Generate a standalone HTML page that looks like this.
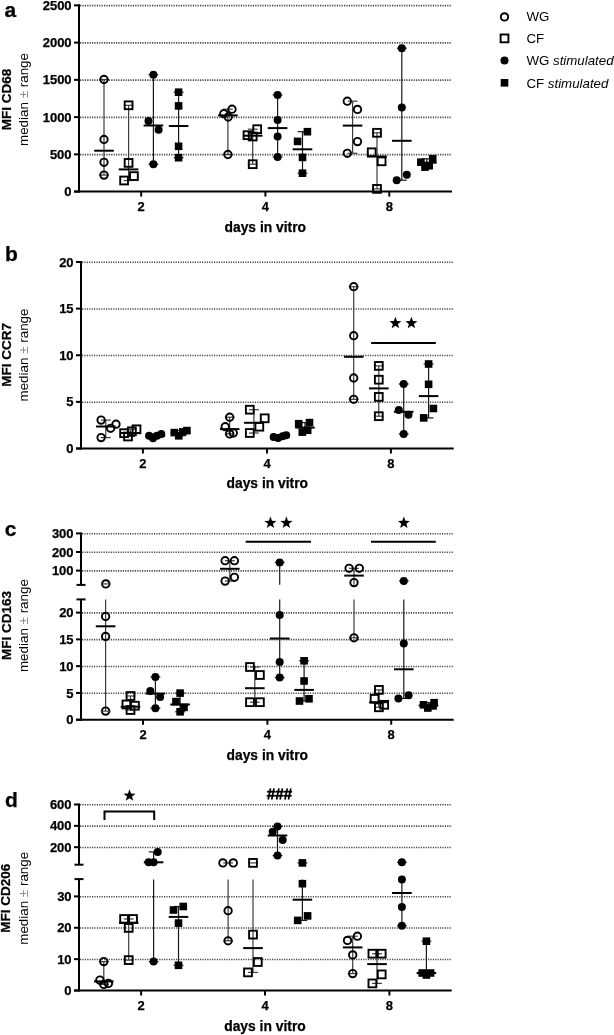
<!DOCTYPE html>
<html><head><meta charset="utf-8"><title>Figure</title>
<style>
html,body{margin:0;padding:0;background:#fff;}
body{width:614px;height:1035px;overflow:hidden;}
svg{display:block;will-change:transform;}
text{font-family:"Liberation Sans", sans-serif;fill:#000;}
text[font-weight="bold"]{stroke:#000;stroke-width:0.25px;}
</style></head>
<body>
<svg width="614" height="1035" viewBox="0 0 614 1035">
<rect width="614" height="1035" fill="#fff"/>
<text x="4.6" y="16.6" font-size="21" text-anchor="start" font-weight="bold" >a</text>
<line x1="80" y1="5.65" x2="452" y2="5.65" stroke="#4a4a4a" stroke-width="1.6" stroke-dasharray="1.2,1.2"/>
<line x1="80" y1="42.9" x2="452" y2="42.9" stroke="#4a4a4a" stroke-width="1.6" stroke-dasharray="1.2,1.2"/>
<line x1="80" y1="80.15" x2="452" y2="80.15" stroke="#4a4a4a" stroke-width="1.6" stroke-dasharray="1.2,1.2"/>
<line x1="80" y1="117.4" x2="452" y2="117.4" stroke="#4a4a4a" stroke-width="1.6" stroke-dasharray="1.2,1.2"/>
<line x1="80" y1="154.65" x2="452" y2="154.65" stroke="#4a4a4a" stroke-width="1.6" stroke-dasharray="1.2,1.2"/>
<line x1="79" y1="4.35" x2="79" y2="192.6" stroke="#000" stroke-width="2" />
<line x1="74" y1="5.35" x2="79" y2="5.35" stroke="#000" stroke-width="2" />
<text x="71.6" y="9.95" font-size="13" text-anchor="end" font-weight="bold" >2500</text>
<line x1="74" y1="42.6" x2="79" y2="42.6" stroke="#000" stroke-width="2" />
<text x="71.6" y="47.2" font-size="13" text-anchor="end" font-weight="bold" >2000</text>
<line x1="74" y1="79.85" x2="79" y2="79.85" stroke="#000" stroke-width="2" />
<text x="71.6" y="84.45" font-size="13" text-anchor="end" font-weight="bold" >1500</text>
<line x1="74" y1="117.1" x2="79" y2="117.1" stroke="#000" stroke-width="2" />
<text x="71.6" y="121.7" font-size="13" text-anchor="end" font-weight="bold" >1000</text>
<line x1="74" y1="154.35" x2="79" y2="154.35" stroke="#000" stroke-width="2" />
<text x="71.6" y="158.95" font-size="13" text-anchor="end" font-weight="bold" >500</text>
<line x1="74" y1="191.6" x2="79" y2="191.6" stroke="#000" stroke-width="2" />
<text x="71.6" y="196.2" font-size="13" text-anchor="end" font-weight="bold" >0</text>
<text x="10.6" y="99.5" font-size="13.5" text-anchor="middle" font-weight="bold" transform="rotate(-90 10.6 99.5)">MFI CD68</text>
<text x="27.9" y="99.5" font-size="13.4" text-anchor="middle" transform="rotate(-90 27.9 99.5)">median <tspan fill="#8a8a8a">&#177;</tspan> range</text>
<line x1="74" y1="191.6" x2="452" y2="191.6" stroke="#000" stroke-width="2" />
<line x1="141.2" y1="191.6" x2="141.2" y2="196.6" stroke="#000" stroke-width="2" />
<text x="141.2" y="211.2" font-size="13" text-anchor="middle" font-weight="bold" >2</text>
<line x1="265.4" y1="191.6" x2="265.4" y2="196.6" stroke="#000" stroke-width="2" />
<text x="265.4" y="211.2" font-size="13" text-anchor="middle" font-weight="bold" >4</text>
<line x1="389.3" y1="191.6" x2="389.3" y2="196.6" stroke="#000" stroke-width="2" />
<text x="389.3" y="211.2" font-size="13" text-anchor="middle" font-weight="bold" >8</text>
<text x="265.3" y="232.2" font-size="13.85" text-anchor="middle" font-weight="bold" >days in vitro</text>
<line x1="104" y1="79.5" x2="104" y2="175.1" stroke="#3c3c3c" stroke-width="1.2" />
<line x1="99.1" y1="79.5" x2="108.9" y2="79.5" stroke="#3c3c3c" stroke-width="1.2" />
<line x1="99.1" y1="175.1" x2="108.9" y2="175.1" stroke="#3c3c3c" stroke-width="1.2" />
<line x1="94.2" y1="150.7" x2="113.8" y2="150.7" stroke="#000" stroke-width="2" />
<circle cx="104" cy="79.5" r="3.7" fill="none" stroke="#000" stroke-width="1.9"/>
<circle cx="104" cy="139.5" r="3.7" fill="none" stroke="#000" stroke-width="1.9"/>
<circle cx="104" cy="162.3" r="3.7" fill="none" stroke="#000" stroke-width="1.9"/>
<circle cx="104" cy="175.1" r="3.7" fill="none" stroke="#000" stroke-width="1.9"/>
<line x1="128.6" y1="105.3" x2="128.6" y2="180.5" stroke="#3c3c3c" stroke-width="1.2" />
<line x1="123.7" y1="105.3" x2="133.5" y2="105.3" stroke="#3c3c3c" stroke-width="1.2" />
<line x1="123.7" y1="180.5" x2="133.5" y2="180.5" stroke="#3c3c3c" stroke-width="1.2" />
<line x1="118.8" y1="169.4" x2="138.4" y2="169.4" stroke="#000" stroke-width="2" />
<rect x="124.7" y="101.4" width="7.8" height="7.8" fill="none" stroke="#000" stroke-width="1.9"/>
<rect x="124.7" y="159" width="7.8" height="7.8" fill="none" stroke="#000" stroke-width="1.9"/>
<rect x="130" y="172.2" width="7.8" height="7.8" fill="none" stroke="#000" stroke-width="1.9"/>
<rect x="120.2" y="176.6" width="7.8" height="7.8" fill="none" stroke="#000" stroke-width="1.9"/>
<line x1="153.4" y1="74.7" x2="153.4" y2="164.2" stroke="#1a1a1a" stroke-width="1.2" />
<line x1="148.5" y1="74.7" x2="158.3" y2="74.7" stroke="#1a1a1a" stroke-width="1.2" />
<line x1="148.5" y1="164.2" x2="158.3" y2="164.2" stroke="#1a1a1a" stroke-width="1.2" />
<line x1="143.6" y1="125.5" x2="163.2" y2="125.5" stroke="#000" stroke-width="2" />
<circle cx="153.4" cy="74.7" r="4" fill="#000"/>
<circle cx="148.5" cy="121.1" r="4" fill="#000"/>
<circle cx="158.6" cy="129.7" r="4" fill="#000"/>
<circle cx="153.4" cy="164.2" r="4" fill="#000"/>
<line x1="178.6" y1="92.2" x2="178.6" y2="157.7" stroke="#1a1a1a" stroke-width="1.2" />
<line x1="173.7" y1="92.2" x2="183.5" y2="92.2" stroke="#1a1a1a" stroke-width="1.2" />
<line x1="173.7" y1="157.7" x2="183.5" y2="157.7" stroke="#1a1a1a" stroke-width="1.2" />
<line x1="168.8" y1="126" x2="188.4" y2="126" stroke="#000" stroke-width="2" />
<rect x="174.8" y="88.4" width="7.6" height="7.6" fill="#000"/>
<rect x="174.8" y="102.1" width="7.6" height="7.6" fill="#000"/>
<rect x="174.8" y="142.5" width="7.6" height="7.6" fill="#000"/>
<rect x="174.8" y="153.9" width="7.6" height="7.6" fill="#000"/>
<line x1="227.9" y1="109.2" x2="227.9" y2="154.5" stroke="#3c3c3c" stroke-width="1.2" />
<line x1="223" y1="109.2" x2="232.8" y2="109.2" stroke="#3c3c3c" stroke-width="1.2" />
<line x1="223" y1="154.5" x2="232.8" y2="154.5" stroke="#3c3c3c" stroke-width="1.2" />
<line x1="218.1" y1="115.4" x2="237.7" y2="115.4" stroke="#000" stroke-width="2" />
<circle cx="232" cy="109.2" r="3.7" fill="none" stroke="#000" stroke-width="1.9"/>
<circle cx="223.8" cy="113.7" r="3.7" fill="none" stroke="#000" stroke-width="1.9"/>
<circle cx="228.2" cy="117" r="3.7" fill="none" stroke="#000" stroke-width="1.9"/>
<circle cx="227.9" cy="154.5" r="3.7" fill="none" stroke="#000" stroke-width="1.9"/>
<line x1="252.7" y1="129.2" x2="252.7" y2="164.2" stroke="#3c3c3c" stroke-width="1.2" />
<line x1="247.8" y1="129.2" x2="257.6" y2="129.2" stroke="#3c3c3c" stroke-width="1.2" />
<line x1="247.8" y1="164.2" x2="257.6" y2="164.2" stroke="#3c3c3c" stroke-width="1.2" />
<line x1="242.9" y1="135.7" x2="262.5" y2="135.7" stroke="#000" stroke-width="2" />
<rect x="253.3" y="125.3" width="7.8" height="7.8" fill="none" stroke="#000" stroke-width="1.9"/>
<rect x="243.6" y="131.3" width="7.8" height="7.8" fill="none" stroke="#000" stroke-width="1.9"/>
<rect x="248.8" y="132.6" width="7.8" height="7.8" fill="none" stroke="#000" stroke-width="1.9"/>
<rect x="248.8" y="160.3" width="7.8" height="7.8" fill="none" stroke="#000" stroke-width="1.9"/>
<line x1="277.6" y1="95" x2="277.6" y2="156.9" stroke="#1a1a1a" stroke-width="1.2" />
<line x1="272.7" y1="95" x2="282.5" y2="95" stroke="#1a1a1a" stroke-width="1.2" />
<line x1="272.7" y1="156.9" x2="282.5" y2="156.9" stroke="#1a1a1a" stroke-width="1.2" />
<line x1="267.8" y1="128.1" x2="287.4" y2="128.1" stroke="#000" stroke-width="2" />
<circle cx="277.6" cy="95" r="4" fill="#000"/>
<circle cx="277.6" cy="119.9" r="4" fill="#000"/>
<circle cx="277.6" cy="136.5" r="4" fill="#000"/>
<circle cx="277.6" cy="156.9" r="4" fill="#000"/>
<line x1="302.5" y1="131.7" x2="302.5" y2="173.2" stroke="#1a1a1a" stroke-width="1.2" />
<line x1="297.6" y1="131.7" x2="307.4" y2="131.7" stroke="#1a1a1a" stroke-width="1.2" />
<line x1="297.6" y1="173.2" x2="307.4" y2="173.2" stroke="#1a1a1a" stroke-width="1.2" />
<line x1="292.7" y1="149.3" x2="312.3" y2="149.3" stroke="#000" stroke-width="2" />
<rect x="303.6" y="127.9" width="7.6" height="7.6" fill="#000"/>
<rect x="293.8" y="137.6" width="7.6" height="7.6" fill="#000"/>
<rect x="298.7" y="153.6" width="7.6" height="7.6" fill="#000"/>
<rect x="298.7" y="169.4" width="7.6" height="7.6" fill="#000"/>
<line x1="352.6" y1="101.2" x2="352.6" y2="153.3" stroke="#3c3c3c" stroke-width="1.2" />
<line x1="347.7" y1="101.2" x2="357.5" y2="101.2" stroke="#3c3c3c" stroke-width="1.2" />
<line x1="347.7" y1="153.3" x2="357.5" y2="153.3" stroke="#3c3c3c" stroke-width="1.2" />
<line x1="342.8" y1="125.6" x2="362.4" y2="125.6" stroke="#000" stroke-width="2" />
<circle cx="347.3" cy="101.2" r="3.7" fill="none" stroke="#000" stroke-width="1.9"/>
<circle cx="357.5" cy="109.4" r="3.7" fill="none" stroke="#000" stroke-width="1.9"/>
<circle cx="357.5" cy="141.6" r="3.7" fill="none" stroke="#000" stroke-width="1.9"/>
<circle cx="347.3" cy="153.3" r="3.7" fill="none" stroke="#000" stroke-width="1.9"/>
<line x1="377" y1="132.8" x2="377" y2="188.9" stroke="#3c3c3c" stroke-width="1.2" />
<line x1="372.1" y1="132.8" x2="381.9" y2="132.8" stroke="#3c3c3c" stroke-width="1.2" />
<line x1="372.1" y1="188.9" x2="381.9" y2="188.9" stroke="#3c3c3c" stroke-width="1.2" />
<line x1="367.2" y1="156.5" x2="386.8" y2="156.5" stroke="#000" stroke-width="2" />
<rect x="373.1" y="128.9" width="7.8" height="7.8" fill="none" stroke="#000" stroke-width="1.9"/>
<rect x="367.8" y="148.4" width="7.8" height="7.8" fill="none" stroke="#000" stroke-width="1.9"/>
<rect x="377.7" y="157.4" width="7.8" height="7.8" fill="none" stroke="#000" stroke-width="1.9"/>
<rect x="373.1" y="185" width="7.8" height="7.8" fill="none" stroke="#000" stroke-width="1.9"/>
<line x1="401.8" y1="48.2" x2="401.8" y2="180.2" stroke="#1a1a1a" stroke-width="1.2" />
<line x1="396.9" y1="48.2" x2="406.7" y2="48.2" stroke="#1a1a1a" stroke-width="1.2" />
<line x1="396.9" y1="180.2" x2="406.7" y2="180.2" stroke="#1a1a1a" stroke-width="1.2" />
<line x1="392" y1="140.8" x2="411.6" y2="140.8" stroke="#000" stroke-width="2" />
<circle cx="401.8" cy="48.2" r="4" fill="#000"/>
<circle cx="401.8" cy="107.4" r="4" fill="#000"/>
<circle cx="406.8" cy="174.7" r="4" fill="#000"/>
<circle cx="396.7" cy="180.2" r="4" fill="#000"/>
<line x1="426.8" y1="158.8" x2="426.8" y2="167.1" stroke="#1a1a1a" stroke-width="1.2" />
<line x1="421.9" y1="158.8" x2="431.7" y2="158.8" stroke="#1a1a1a" stroke-width="1.2" />
<line x1="421.9" y1="167.1" x2="431.7" y2="167.1" stroke="#1a1a1a" stroke-width="1.2" />
<line x1="417" y1="162.7" x2="436.6" y2="162.7" stroke="#000" stroke-width="2" />
<rect x="417.1" y="158.4" width="7.6" height="7.6" fill="#000"/>
<rect x="421.2" y="163.3" width="7.6" height="7.6" fill="#000"/>
<rect x="425.4" y="161.9" width="7.6" height="7.6" fill="#000"/>
<rect x="428.9" y="155" width="7.6" height="7.6" fill="#000"/>
<circle cx="504.5" cy="16.9" r="3.7" fill="none" stroke="#000" stroke-width="1.9"/>
<rect x="500.6" y="34.5" width="7.8" height="7.8" fill="none" stroke="#000" stroke-width="1.9"/>
<circle cx="504.5" cy="60.6" r="4" fill="#000"/>
<rect x="500.7" y="79" width="7.6" height="7.6" fill="#000"/>
<text x="526.4" y="21.4" font-size="13.3" text-anchor="start" font-weight="normal" >WG</text>
<text x="526.4" y="43" font-size="13.3" text-anchor="start" font-weight="normal" >CF</text>
<text x="526.4" y="65" font-size="13.3" text-anchor="start" font-weight="normal" >WG <tspan font-style="italic">stimulated</tspan></text>
<text x="526.4" y="87.5" font-size="13.3" text-anchor="start" font-weight="normal" >CF <tspan font-style="italic">stimulated</tspan></text>
<text x="5" y="260.5" font-size="21" text-anchor="start" font-weight="bold" >b</text>
<line x1="82" y1="262.3" x2="453.7" y2="262.3" stroke="#4a4a4a" stroke-width="1.6" stroke-dasharray="1.2,1.2"/>
<line x1="82" y1="308.93" x2="453.7" y2="308.93" stroke="#4a4a4a" stroke-width="1.6" stroke-dasharray="1.2,1.2"/>
<line x1="82" y1="355.55" x2="453.7" y2="355.55" stroke="#4a4a4a" stroke-width="1.6" stroke-dasharray="1.2,1.2"/>
<line x1="82" y1="402.18" x2="453.7" y2="402.18" stroke="#4a4a4a" stroke-width="1.6" stroke-dasharray="1.2,1.2"/>
<line x1="81" y1="261" x2="81" y2="449.5" stroke="#000" stroke-width="2" />
<line x1="76" y1="262" x2="81" y2="262" stroke="#000" stroke-width="2" />
<text x="73.6" y="266.6" font-size="13" text-anchor="end" font-weight="bold" >20</text>
<line x1="76" y1="308.62" x2="81" y2="308.62" stroke="#000" stroke-width="2" />
<text x="73.6" y="313.23" font-size="13" text-anchor="end" font-weight="bold" >15</text>
<line x1="76" y1="355.25" x2="81" y2="355.25" stroke="#000" stroke-width="2" />
<text x="73.6" y="359.85" font-size="13" text-anchor="end" font-weight="bold" >10</text>
<line x1="76" y1="401.88" x2="81" y2="401.88" stroke="#000" stroke-width="2" />
<text x="73.6" y="406.48" font-size="13" text-anchor="end" font-weight="bold" >5</text>
<line x1="76" y1="448.5" x2="81" y2="448.5" stroke="#000" stroke-width="2" />
<text x="73.6" y="453.1" font-size="13" text-anchor="end" font-weight="bold" >0</text>
<text x="10.6" y="355" font-size="13.5" text-anchor="middle" font-weight="bold" transform="rotate(-90 10.6 355)">MFI CCR7</text>
<text x="27.9" y="355" font-size="13.4" text-anchor="middle" transform="rotate(-90 27.9 355)">median <tspan fill="#8a8a8a">&#177;</tspan> range</text>
<line x1="76" y1="448.5" x2="453.7" y2="448.5" stroke="#000" stroke-width="2" />
<line x1="142.9" y1="448.5" x2="142.9" y2="453.5" stroke="#000" stroke-width="2" />
<text x="142.9" y="468.2" font-size="13" text-anchor="middle" font-weight="bold" >2</text>
<line x1="267" y1="448.5" x2="267" y2="453.5" stroke="#000" stroke-width="2" />
<text x="267" y="468.2" font-size="13" text-anchor="middle" font-weight="bold" >4</text>
<line x1="390.9" y1="448.5" x2="390.9" y2="453.5" stroke="#000" stroke-width="2" />
<text x="390.9" y="468.2" font-size="13" text-anchor="middle" font-weight="bold" >8</text>
<text x="267.3" y="488.4" font-size="13.85" text-anchor="middle" font-weight="bold" >days in vitro</text>
<line x1="105.8" y1="420.1" x2="105.8" y2="437.6" stroke="#3c3c3c" stroke-width="1.2" />
<line x1="100.9" y1="420.1" x2="110.7" y2="420.1" stroke="#3c3c3c" stroke-width="1.2" />
<line x1="100.9" y1="437.6" x2="110.7" y2="437.6" stroke="#3c3c3c" stroke-width="1.2" />
<line x1="96" y1="426.5" x2="115.6" y2="426.5" stroke="#000" stroke-width="2" />
<circle cx="101.1" cy="420.1" r="3.7" fill="none" stroke="#000" stroke-width="1.9"/>
<circle cx="116" cy="424.2" r="3.7" fill="none" stroke="#000" stroke-width="1.9"/>
<circle cx="110.6" cy="428.3" r="3.7" fill="none" stroke="#000" stroke-width="1.9"/>
<circle cx="101.1" cy="437.6" r="3.7" fill="none" stroke="#000" stroke-width="1.9"/>
<line x1="130.3" y1="429.3" x2="130.3" y2="436.5" stroke="#3c3c3c" stroke-width="1.2" />
<line x1="125.4" y1="429.3" x2="135.2" y2="429.3" stroke="#3c3c3c" stroke-width="1.2" />
<line x1="125.4" y1="436.5" x2="135.2" y2="436.5" stroke="#3c3c3c" stroke-width="1.2" />
<line x1="120.5" y1="433" x2="140.1" y2="433" stroke="#000" stroke-width="2" />
<rect x="120.2" y="429.3" width="7.8" height="7.8" fill="none" stroke="#000" stroke-width="1.9"/>
<rect x="124.1" y="432.6" width="7.8" height="7.8" fill="none" stroke="#000" stroke-width="1.9"/>
<rect x="128" y="427.4" width="7.8" height="7.8" fill="none" stroke="#000" stroke-width="1.9"/>
<rect x="132.6" y="425.4" width="7.8" height="7.8" fill="none" stroke="#000" stroke-width="1.9"/>
<line x1="155.3" y1="433.9" x2="155.3" y2="438.2" stroke="#1a1a1a" stroke-width="1.2" />
<line x1="150.4" y1="433.9" x2="160.2" y2="433.9" stroke="#1a1a1a" stroke-width="1.2" />
<line x1="150.4" y1="438.2" x2="160.2" y2="438.2" stroke="#1a1a1a" stroke-width="1.2" />
<line x1="145.5" y1="436" x2="165.1" y2="436" stroke="#000" stroke-width="2" />
<circle cx="149.1" cy="435.8" r="4" fill="#000"/>
<circle cx="153" cy="438.2" r="4" fill="#000"/>
<circle cx="157" cy="435.8" r="4" fill="#000"/>
<circle cx="161.3" cy="433.9" r="4" fill="#000"/>
<line x1="180.5" y1="430.6" x2="180.5" y2="435.8" stroke="#1a1a1a" stroke-width="1.2" />
<line x1="175.6" y1="430.6" x2="185.4" y2="430.6" stroke="#1a1a1a" stroke-width="1.2" />
<line x1="175.6" y1="435.8" x2="185.4" y2="435.8" stroke="#1a1a1a" stroke-width="1.2" />
<line x1="170.7" y1="433" x2="190.3" y2="433" stroke="#000" stroke-width="2" />
<rect x="170.5" y="428.8" width="7.6" height="7.6" fill="#000"/>
<rect x="175" y="432" width="7.6" height="7.6" fill="#000"/>
<rect x="179" y="428.1" width="7.6" height="7.6" fill="#000"/>
<rect x="183.1" y="426.8" width="7.6" height="7.6" fill="#000"/>
<line x1="229.7" y1="417.2" x2="229.7" y2="433.9" stroke="#3c3c3c" stroke-width="1.2" />
<line x1="224.8" y1="417.2" x2="234.6" y2="417.2" stroke="#3c3c3c" stroke-width="1.2" />
<line x1="224.8" y1="433.9" x2="234.6" y2="433.9" stroke="#3c3c3c" stroke-width="1.2" />
<line x1="219.9" y1="429.1" x2="239.5" y2="429.1" stroke="#000" stroke-width="2" />
<circle cx="229.7" cy="417.2" r="3.7" fill="none" stroke="#000" stroke-width="1.9"/>
<circle cx="225.2" cy="426.7" r="3.7" fill="none" stroke="#000" stroke-width="1.9"/>
<circle cx="229.7" cy="433.9" r="3.7" fill="none" stroke="#000" stroke-width="1.9"/>
<circle cx="233.3" cy="433" r="3.7" fill="none" stroke="#000" stroke-width="1.9"/>
<line x1="253.9" y1="409.7" x2="253.9" y2="433" stroke="#3c3c3c" stroke-width="1.2" />
<line x1="249" y1="409.7" x2="258.8" y2="409.7" stroke="#3c3c3c" stroke-width="1.2" />
<line x1="249" y1="433" x2="258.8" y2="433" stroke="#3c3c3c" stroke-width="1.2" />
<line x1="244.1" y1="422.8" x2="263.7" y2="422.8" stroke="#000" stroke-width="2" />
<rect x="245.9" y="405.8" width="7.8" height="7.8" fill="none" stroke="#000" stroke-width="1.9"/>
<rect x="260.8" y="414.4" width="7.8" height="7.8" fill="none" stroke="#000" stroke-width="1.9"/>
<rect x="255.4" y="422.8" width="7.8" height="7.8" fill="none" stroke="#000" stroke-width="1.9"/>
<rect x="245.9" y="429.1" width="7.8" height="7.8" fill="none" stroke="#000" stroke-width="1.9"/>
<line x1="280" y1="435.2" x2="280" y2="438" stroke="#1a1a1a" stroke-width="1.2" />
<line x1="275.1" y1="435.2" x2="284.9" y2="435.2" stroke="#1a1a1a" stroke-width="1.2" />
<line x1="275.1" y1="438" x2="284.9" y2="438" stroke="#1a1a1a" stroke-width="1.2" />
<line x1="270.2" y1="436.8" x2="289.8" y2="436.8" stroke="#000" stroke-width="2" />
<circle cx="273.6" cy="437" r="4" fill="#000"/>
<circle cx="278.1" cy="438" r="4" fill="#000"/>
<circle cx="282.6" cy="436.2" r="4" fill="#000"/>
<circle cx="286.2" cy="435.2" r="4" fill="#000"/>
<line x1="305" y1="422.6" x2="305" y2="432.1" stroke="#1a1a1a" stroke-width="1.2" />
<line x1="300.1" y1="422.6" x2="309.9" y2="422.6" stroke="#1a1a1a" stroke-width="1.2" />
<line x1="300.1" y1="432.1" x2="309.9" y2="432.1" stroke="#1a1a1a" stroke-width="1.2" />
<line x1="295.2" y1="427.6" x2="314.8" y2="427.6" stroke="#000" stroke-width="2" />
<rect x="294.9" y="419.9" width="7.6" height="7.6" fill="#000"/>
<rect x="305.7" y="418.8" width="7.6" height="7.6" fill="#000"/>
<rect x="298.5" y="428.3" width="7.6" height="7.6" fill="#000"/>
<rect x="303.9" y="426.5" width="7.6" height="7.6" fill="#000"/>
<line x1="353.7" y1="286.7" x2="353.7" y2="399.3" stroke="#3c3c3c" stroke-width="1.2" />
<line x1="348.8" y1="286.7" x2="358.6" y2="286.7" stroke="#3c3c3c" stroke-width="1.2" />
<line x1="348.8" y1="399.3" x2="358.6" y2="399.3" stroke="#3c3c3c" stroke-width="1.2" />
<line x1="343.9" y1="356.8" x2="363.5" y2="356.8" stroke="#000" stroke-width="2" />
<circle cx="353.7" cy="286.7" r="3.7" fill="none" stroke="#000" stroke-width="1.9"/>
<circle cx="353.7" cy="335.7" r="3.7" fill="none" stroke="#000" stroke-width="1.9"/>
<circle cx="353.7" cy="378" r="3.7" fill="none" stroke="#000" stroke-width="1.9"/>
<circle cx="353.7" cy="399.3" r="3.7" fill="none" stroke="#000" stroke-width="1.9"/>
<line x1="378.8" y1="365.9" x2="378.8" y2="416.2" stroke="#3c3c3c" stroke-width="1.2" />
<line x1="373.9" y1="365.9" x2="383.7" y2="365.9" stroke="#3c3c3c" stroke-width="1.2" />
<line x1="373.9" y1="416.2" x2="383.7" y2="416.2" stroke="#3c3c3c" stroke-width="1.2" />
<line x1="369" y1="388.4" x2="388.6" y2="388.4" stroke="#000" stroke-width="2" />
<rect x="374.9" y="362" width="7.8" height="7.8" fill="none" stroke="#000" stroke-width="1.9"/>
<rect x="374.9" y="375.8" width="7.8" height="7.8" fill="none" stroke="#000" stroke-width="1.9"/>
<rect x="374.9" y="393" width="7.8" height="7.8" fill="none" stroke="#000" stroke-width="1.9"/>
<rect x="374.9" y="412.3" width="7.8" height="7.8" fill="none" stroke="#000" stroke-width="1.9"/>
<line x1="403.7" y1="384" x2="403.7" y2="434" stroke="#1a1a1a" stroke-width="1.2" />
<line x1="398.8" y1="384" x2="408.6" y2="384" stroke="#1a1a1a" stroke-width="1.2" />
<line x1="398.8" y1="434" x2="408.6" y2="434" stroke="#1a1a1a" stroke-width="1.2" />
<line x1="393.9" y1="411.8" x2="413.5" y2="411.8" stroke="#000" stroke-width="2" />
<circle cx="403.7" cy="384" r="4" fill="#000"/>
<circle cx="398.8" cy="409.9" r="4" fill="#000"/>
<circle cx="408.5" cy="414.7" r="4" fill="#000"/>
<circle cx="403.7" cy="434" r="4" fill="#000"/>
<line x1="428.6" y1="364" x2="428.6" y2="417.9" stroke="#1a1a1a" stroke-width="1.2" />
<line x1="423.7" y1="364" x2="433.5" y2="364" stroke="#1a1a1a" stroke-width="1.2" />
<line x1="423.7" y1="417.9" x2="433.5" y2="417.9" stroke="#1a1a1a" stroke-width="1.2" />
<line x1="418.8" y1="396.1" x2="438.4" y2="396.1" stroke="#000" stroke-width="2" />
<rect x="424.8" y="360.2" width="7.6" height="7.6" fill="#000"/>
<rect x="424.8" y="380.5" width="7.6" height="7.6" fill="#000"/>
<rect x="429.6" y="404.7" width="7.6" height="7.6" fill="#000"/>
<rect x="419.9" y="414.1" width="7.6" height="7.6" fill="#000"/>
<polygon points="395.4,316.8 396.96,320.96 401.39,321.15 397.92,323.92 399.1,328.2 395.4,325.75 391.7,328.2 392.88,323.92 389.41,321.15 393.84,320.96" fill="#000"/>
<polygon points="411.4,316.8 412.96,320.96 417.39,321.15 413.92,323.92 415.1,328.2 411.4,325.75 407.7,328.2 408.88,323.92 405.41,321.15 409.84,320.96" fill="#000"/>
<line x1="371.1" y1="343" x2="435.8" y2="343" stroke="#000" stroke-width="2" />
<text x="4.8" y="536.4" font-size="21" text-anchor="start" font-weight="bold" >c</text>
<line x1="82" y1="533.7" x2="453.7" y2="533.7" stroke="#4a4a4a" stroke-width="1.6" stroke-dasharray="1.2,1.2"/>
<line x1="82" y1="552.3" x2="453.7" y2="552.3" stroke="#4a4a4a" stroke-width="1.6" stroke-dasharray="1.2,1.2"/>
<line x1="82" y1="570.9" x2="453.7" y2="570.9" stroke="#4a4a4a" stroke-width="1.6" stroke-dasharray="1.2,1.2"/>
<line x1="82" y1="612.9" x2="453.7" y2="612.9" stroke="#4a4a4a" stroke-width="1.6" stroke-dasharray="1.2,1.2"/>
<line x1="82" y1="639.67" x2="453.7" y2="639.67" stroke="#4a4a4a" stroke-width="1.6" stroke-dasharray="1.2,1.2"/>
<line x1="82" y1="666.45" x2="453.7" y2="666.45" stroke="#4a4a4a" stroke-width="1.6" stroke-dasharray="1.2,1.2"/>
<line x1="82" y1="693.23" x2="453.7" y2="693.23" stroke="#4a4a4a" stroke-width="1.6" stroke-dasharray="1.2,1.2"/>
<line x1="81" y1="532.4" x2="81" y2="584.9" stroke="#000" stroke-width="2" />
<line x1="76.5" y1="584.9" x2="85.5" y2="584.9" stroke="#000" stroke-width="2" />
<line x1="81" y1="599.4" x2="81" y2="720.7" stroke="#000" stroke-width="2" />
<line x1="76.5" y1="599.4" x2="85.5" y2="599.4" stroke="#000" stroke-width="2" />
<line x1="76" y1="533.4" x2="81" y2="533.4" stroke="#000" stroke-width="2" />
<text x="73.6" y="538" font-size="13" text-anchor="end" font-weight="bold" >300</text>
<line x1="76" y1="552" x2="81" y2="552" stroke="#000" stroke-width="2" />
<text x="73.6" y="556.6" font-size="13" text-anchor="end" font-weight="bold" >200</text>
<line x1="76" y1="570.6" x2="81" y2="570.6" stroke="#000" stroke-width="2" />
<text x="73.6" y="575.2" font-size="13" text-anchor="end" font-weight="bold" >100</text>
<line x1="76" y1="612.6" x2="81" y2="612.6" stroke="#000" stroke-width="2" />
<text x="73.6" y="617.2" font-size="13" text-anchor="end" font-weight="bold" >20</text>
<line x1="76" y1="639.38" x2="81" y2="639.38" stroke="#000" stroke-width="2" />
<text x="73.6" y="643.98" font-size="13" text-anchor="end" font-weight="bold" >15</text>
<line x1="76" y1="666.15" x2="81" y2="666.15" stroke="#000" stroke-width="2" />
<text x="73.6" y="670.75" font-size="13" text-anchor="end" font-weight="bold" >10</text>
<line x1="76" y1="692.93" x2="81" y2="692.93" stroke="#000" stroke-width="2" />
<text x="73.6" y="697.53" font-size="13" text-anchor="end" font-weight="bold" >5</text>
<line x1="76" y1="719.7" x2="81" y2="719.7" stroke="#000" stroke-width="2" />
<text x="73.6" y="724.3" font-size="13" text-anchor="end" font-weight="bold" >0</text>
<text x="10.6" y="625.6" font-size="13.5" text-anchor="middle" font-weight="bold" transform="rotate(-90 10.6 625.6)">MFI CD163</text>
<text x="27.9" y="625.6" font-size="13.4" text-anchor="middle" transform="rotate(-90 27.9 625.6)">median <tspan fill="#8a8a8a">&#177;</tspan> range</text>
<line x1="76" y1="719.7" x2="453.7" y2="719.7" stroke="#000" stroke-width="2" />
<line x1="143" y1="719.7" x2="143" y2="724.7" stroke="#000" stroke-width="2" />
<text x="143" y="739.4" font-size="13" text-anchor="middle" font-weight="bold" >2</text>
<line x1="267.4" y1="719.7" x2="267.4" y2="724.7" stroke="#000" stroke-width="2" />
<text x="267.4" y="739.4" font-size="13" text-anchor="middle" font-weight="bold" >4</text>
<line x1="391.2" y1="719.7" x2="391.2" y2="724.7" stroke="#000" stroke-width="2" />
<text x="391.2" y="739.4" font-size="13" text-anchor="middle" font-weight="bold" >8</text>
<text x="267.3" y="760" font-size="13.85" text-anchor="middle" font-weight="bold" >days in vitro</text>
<line x1="105.6" y1="599.4" x2="105.6" y2="711.1" stroke="#3c3c3c" stroke-width="1.2" />
<line x1="95.8" y1="626.3" x2="115.4" y2="626.3" stroke="#000" stroke-width="2" />
<circle cx="105.8" cy="583.9" r="3.7" fill="none" stroke="#000" stroke-width="1.9"/>
<circle cx="105.6" cy="616.5" r="3.7" fill="none" stroke="#000" stroke-width="1.9"/>
<circle cx="105.6" cy="636.5" r="3.7" fill="none" stroke="#000" stroke-width="1.9"/>
<circle cx="105.6" cy="711.1" r="3.7" fill="none" stroke="#000" stroke-width="1.9"/>
<line x1="100.7" y1="711.1" x2="110.5" y2="711.1" stroke="#3c3c3c" stroke-width="1.2" />
<line x1="100.9" y1="583.9" x2="110.7" y2="583.9" stroke="#3c3c3c" stroke-width="1.2" />
<line x1="130.5" y1="696" x2="130.5" y2="710" stroke="#3c3c3c" stroke-width="1.2" />
<line x1="125.6" y1="696" x2="135.4" y2="696" stroke="#3c3c3c" stroke-width="1.2" />
<line x1="125.6" y1="710" x2="135.4" y2="710" stroke="#3c3c3c" stroke-width="1.2" />
<line x1="120.7" y1="706.7" x2="140.3" y2="706.7" stroke="#000" stroke-width="2" />
<rect x="126.6" y="692.1" width="7.8" height="7.8" fill="none" stroke="#000" stroke-width="1.9"/>
<rect x="122.5" y="700.6" width="7.8" height="7.8" fill="none" stroke="#000" stroke-width="1.9"/>
<rect x="131" y="701.8" width="7.8" height="7.8" fill="none" stroke="#000" stroke-width="1.9"/>
<rect x="126.6" y="706.1" width="7.8" height="7.8" fill="none" stroke="#000" stroke-width="1.9"/>
<line x1="155.4" y1="676.9" x2="155.4" y2="708.2" stroke="#1a1a1a" stroke-width="1.2" />
<line x1="150.5" y1="676.9" x2="160.3" y2="676.9" stroke="#1a1a1a" stroke-width="1.2" />
<line x1="150.5" y1="708.2" x2="160.3" y2="708.2" stroke="#1a1a1a" stroke-width="1.2" />
<line x1="145.6" y1="693.6" x2="165.2" y2="693.6" stroke="#000" stroke-width="2" />
<circle cx="155.4" cy="676.9" r="4" fill="#000"/>
<circle cx="150.3" cy="691" r="4" fill="#000"/>
<circle cx="160.1" cy="696.9" r="4" fill="#000"/>
<circle cx="155.4" cy="708.2" r="4" fill="#000"/>
<line x1="180.1" y1="693.1" x2="180.1" y2="711.8" stroke="#1a1a1a" stroke-width="1.2" />
<line x1="175.2" y1="693.1" x2="185" y2="693.1" stroke="#1a1a1a" stroke-width="1.2" />
<line x1="175.2" y1="711.8" x2="185" y2="711.8" stroke="#1a1a1a" stroke-width="1.2" />
<line x1="170.3" y1="704.5" x2="189.9" y2="704.5" stroke="#000" stroke-width="2" />
<rect x="176.3" y="689.3" width="7.6" height="7.6" fill="#000"/>
<rect x="172.2" y="697.8" width="7.6" height="7.6" fill="#000"/>
<rect x="180.2" y="703.6" width="7.6" height="7.6" fill="#000"/>
<rect x="176.3" y="708" width="7.6" height="7.6" fill="#000"/>
<line x1="229.8" y1="560.7" x2="229.8" y2="581.1" stroke="#3c3c3c" stroke-width="1.2" />
<line x1="224.9" y1="560.7" x2="234.7" y2="560.7" stroke="#3c3c3c" stroke-width="1.2" />
<line x1="224.9" y1="581.1" x2="234.7" y2="581.1" stroke="#3c3c3c" stroke-width="1.2" />
<line x1="220" y1="568.8" x2="239.6" y2="568.8" stroke="#000" stroke-width="2" />
<circle cx="225.1" cy="560.7" r="3.7" fill="none" stroke="#000" stroke-width="1.9"/>
<circle cx="234.4" cy="560.7" r="3.7" fill="none" stroke="#000" stroke-width="1.9"/>
<circle cx="225.1" cy="581.1" r="3.7" fill="none" stroke="#000" stroke-width="1.9"/>
<circle cx="234.4" cy="577.3" r="3.7" fill="none" stroke="#000" stroke-width="1.9"/>
<line x1="254.8" y1="667" x2="254.8" y2="702.2" stroke="#3c3c3c" stroke-width="1.2" />
<line x1="249.9" y1="667" x2="259.7" y2="667" stroke="#3c3c3c" stroke-width="1.2" />
<line x1="249.9" y1="702.2" x2="259.7" y2="702.2" stroke="#3c3c3c" stroke-width="1.2" />
<line x1="245" y1="688.2" x2="264.6" y2="688.2" stroke="#000" stroke-width="2" />
<rect x="246.1" y="663.1" width="7.8" height="7.8" fill="none" stroke="#000" stroke-width="1.9"/>
<rect x="256" y="671.1" width="7.8" height="7.8" fill="none" stroke="#000" stroke-width="1.9"/>
<rect x="246.1" y="698.3" width="7.8" height="7.8" fill="none" stroke="#000" stroke-width="1.9"/>
<rect x="256" y="698.3" width="7.8" height="7.8" fill="none" stroke="#000" stroke-width="1.9"/>
<line x1="279.7" y1="562.4" x2="279.7" y2="584.7" stroke="#1a1a1a" stroke-width="1.2" />
<line x1="279.7" y1="599.6" x2="279.7" y2="677.6" stroke="#1a1a1a" stroke-width="1.2" />
<line x1="274.8" y1="562.4" x2="284.6" y2="562.4" stroke="#1a1a1a" stroke-width="1.2" />
<line x1="274.8" y1="677.6" x2="284.6" y2="677.6" stroke="#1a1a1a" stroke-width="1.2" />
<line x1="269.9" y1="638.5" x2="289.5" y2="638.5" stroke="#000" stroke-width="2" />
<circle cx="279.7" cy="562.4" r="4" fill="#000"/>
<circle cx="279.7" cy="615.1" r="4" fill="#000"/>
<circle cx="279.7" cy="661.9" r="4" fill="#000"/>
<circle cx="279.7" cy="677.6" r="4" fill="#000"/>
<line x1="304.1" y1="660.8" x2="304.1" y2="701" stroke="#1a1a1a" stroke-width="1.2" />
<line x1="299.2" y1="660.8" x2="309" y2="660.8" stroke="#1a1a1a" stroke-width="1.2" />
<line x1="299.2" y1="701" x2="309" y2="701" stroke="#1a1a1a" stroke-width="1.2" />
<line x1="294.3" y1="689.9" x2="313.9" y2="689.9" stroke="#000" stroke-width="2" />
<rect x="300.3" y="657" width="7.6" height="7.6" fill="#000"/>
<rect x="300.3" y="677.2" width="7.6" height="7.6" fill="#000"/>
<rect x="295.7" y="697.2" width="7.6" height="7.6" fill="#000"/>
<rect x="305.2" y="695" width="7.6" height="7.6" fill="#000"/>
<polygon points="270.45,516.6 272.01,520.76 276.44,520.95 272.97,523.72 274.15,528 270.45,525.55 266.75,528 267.93,523.72 264.46,520.95 268.89,520.76" fill="#000"/>
<polygon points="286.4,516.6 287.96,520.76 292.39,520.95 288.92,523.72 290.1,528 286.4,525.55 282.7,528 283.88,523.72 280.41,520.95 284.84,520.76" fill="#000"/>
<line x1="245.7" y1="541.8" x2="311" y2="541.8" stroke="#000" stroke-width="2" />
<line x1="354" y1="568.3" x2="354" y2="584.7" stroke="#3c3c3c" stroke-width="1.2" />
<line x1="354" y1="599.6" x2="354" y2="637.8" stroke="#3c3c3c" stroke-width="1.2" />
<line x1="349.1" y1="568.3" x2="358.9" y2="568.3" stroke="#3c3c3c" stroke-width="1.2" />
<line x1="349.1" y1="637.8" x2="358.9" y2="637.8" stroke="#3c3c3c" stroke-width="1.2" />
<line x1="344.2" y1="575.6" x2="363.8" y2="575.6" stroke="#000" stroke-width="2" />
<circle cx="349.1" cy="568.3" r="3.7" fill="none" stroke="#000" stroke-width="1.9"/>
<circle cx="359.3" cy="568.3" r="3.7" fill="none" stroke="#000" stroke-width="1.9"/>
<circle cx="354" cy="582.6" r="3.7" fill="none" stroke="#000" stroke-width="1.9"/>
<circle cx="354" cy="637.8" r="3.7" fill="none" stroke="#000" stroke-width="1.9"/>
<line x1="378.9" y1="689.9" x2="378.9" y2="707.3" stroke="#3c3c3c" stroke-width="1.2" />
<line x1="374" y1="689.9" x2="383.8" y2="689.9" stroke="#3c3c3c" stroke-width="1.2" />
<line x1="374" y1="707.3" x2="383.8" y2="707.3" stroke="#3c3c3c" stroke-width="1.2" />
<line x1="369.1" y1="702.2" x2="388.7" y2="702.2" stroke="#000" stroke-width="2" />
<rect x="375" y="686" width="7.8" height="7.8" fill="none" stroke="#000" stroke-width="1.9"/>
<rect x="370.7" y="694.9" width="7.8" height="7.8" fill="none" stroke="#000" stroke-width="1.9"/>
<rect x="380.3" y="700.9" width="7.8" height="7.8" fill="none" stroke="#000" stroke-width="1.9"/>
<rect x="375" y="703.4" width="7.8" height="7.8" fill="none" stroke="#000" stroke-width="1.9"/>
<line x1="403.8" y1="580.9" x2="403.8" y2="584.7" stroke="#1a1a1a" stroke-width="1.2" />
<line x1="403.8" y1="599.6" x2="403.8" y2="698.4" stroke="#1a1a1a" stroke-width="1.2" />
<line x1="398.9" y1="580.9" x2="408.7" y2="580.9" stroke="#1a1a1a" stroke-width="1.2" />
<line x1="398.9" y1="698.4" x2="408.7" y2="698.4" stroke="#1a1a1a" stroke-width="1.2" />
<line x1="394" y1="669.3" x2="413.6" y2="669.3" stroke="#000" stroke-width="2" />
<circle cx="403.8" cy="580.9" r="4" fill="#000"/>
<circle cx="403.8" cy="643.6" r="4" fill="#000"/>
<circle cx="408.6" cy="695.2" r="4" fill="#000"/>
<circle cx="398.4" cy="698.4" r="4" fill="#000"/>
<line x1="428.5" y1="702.7" x2="428.5" y2="708" stroke="#1a1a1a" stroke-width="1.2" />
<line x1="423.6" y1="702.7" x2="433.4" y2="702.7" stroke="#1a1a1a" stroke-width="1.2" />
<line x1="423.6" y1="708" x2="433.4" y2="708" stroke="#1a1a1a" stroke-width="1.2" />
<line x1="418.7" y1="705.5" x2="438.3" y2="705.5" stroke="#000" stroke-width="2" />
<rect x="419.7" y="701" width="7.6" height="7.6" fill="#000"/>
<rect x="424" y="704.2" width="7.6" height="7.6" fill="#000"/>
<rect x="429.3" y="702.1" width="7.6" height="7.6" fill="#000"/>
<rect x="430.3" y="698.9" width="7.6" height="7.6" fill="#000"/>
<polygon points="403.85,516.6 405.41,520.76 409.84,520.95 406.37,523.72 407.55,528 403.85,525.55 400.15,528 401.33,523.72 397.86,520.95 402.29,520.76" fill="#000"/>
<line x1="371" y1="541.8" x2="435.8" y2="541.8" stroke="#000" stroke-width="2" />
<text x="5" y="806.6" font-size="21" text-anchor="start" font-weight="bold" >d</text>
<line x1="80" y1="804.8" x2="451.7" y2="804.8" stroke="#4a4a4a" stroke-width="1.6" stroke-dasharray="1.2,1.2"/>
<line x1="80" y1="826.15" x2="451.7" y2="826.15" stroke="#4a4a4a" stroke-width="1.6" stroke-dasharray="1.2,1.2"/>
<line x1="80" y1="847.5" x2="451.7" y2="847.5" stroke="#4a4a4a" stroke-width="1.6" stroke-dasharray="1.2,1.2"/>
<line x1="80" y1="896.7" x2="451.7" y2="896.7" stroke="#4a4a4a" stroke-width="1.6" stroke-dasharray="1.2,1.2"/>
<line x1="80" y1="928.07" x2="451.7" y2="928.07" stroke="#4a4a4a" stroke-width="1.6" stroke-dasharray="1.2,1.2"/>
<line x1="80" y1="959.43" x2="451.7" y2="959.43" stroke="#4a4a4a" stroke-width="1.6" stroke-dasharray="1.2,1.2"/>
<line x1="79" y1="803.5" x2="79" y2="864.7" stroke="#000" stroke-width="2" />
<line x1="74.5" y1="864.7" x2="83.5" y2="864.7" stroke="#000" stroke-width="2" />
<line x1="79" y1="879.1" x2="79" y2="991.5" stroke="#000" stroke-width="2" />
<line x1="74.5" y1="879.1" x2="83.5" y2="879.1" stroke="#000" stroke-width="2" />
<line x1="74" y1="804.5" x2="79" y2="804.5" stroke="#000" stroke-width="2" />
<text x="71.6" y="809.1" font-size="13" text-anchor="end" font-weight="bold" >600</text>
<line x1="74" y1="825.85" x2="79" y2="825.85" stroke="#000" stroke-width="2" />
<text x="71.6" y="830.45" font-size="13" text-anchor="end" font-weight="bold" >400</text>
<line x1="74" y1="847.2" x2="79" y2="847.2" stroke="#000" stroke-width="2" />
<text x="71.6" y="851.8" font-size="13" text-anchor="end" font-weight="bold" >200</text>
<line x1="74" y1="896.4" x2="79" y2="896.4" stroke="#000" stroke-width="2" />
<text x="71.6" y="901" font-size="13" text-anchor="end" font-weight="bold" >30</text>
<line x1="74" y1="927.77" x2="79" y2="927.77" stroke="#000" stroke-width="2" />
<text x="71.6" y="932.37" font-size="13" text-anchor="end" font-weight="bold" >20</text>
<line x1="74" y1="959.13" x2="79" y2="959.13" stroke="#000" stroke-width="2" />
<text x="71.6" y="963.73" font-size="13" text-anchor="end" font-weight="bold" >10</text>
<line x1="74" y1="990.5" x2="79" y2="990.5" stroke="#000" stroke-width="2" />
<text x="71.6" y="995.1" font-size="13" text-anchor="end" font-weight="bold" >0</text>
<text x="10" y="898.3" font-size="13.5" text-anchor="middle" font-weight="bold" transform="rotate(-90 10 898.3)">MFI CD206</text>
<text x="27.9" y="898.3" font-size="13.4" text-anchor="middle" transform="rotate(-90 27.9 898.3)">median <tspan fill="#8a8a8a">&#177;</tspan> range</text>
<line x1="74" y1="990.5" x2="451.7" y2="990.5" stroke="#000" stroke-width="2" />
<line x1="141.1" y1="990.5" x2="141.1" y2="995.5" stroke="#000" stroke-width="2" />
<text x="141.1" y="1010" font-size="13" text-anchor="middle" font-weight="bold" >2</text>
<line x1="265" y1="990.5" x2="265" y2="995.5" stroke="#000" stroke-width="2" />
<text x="265" y="1010" font-size="13" text-anchor="middle" font-weight="bold" >4</text>
<line x1="389.4" y1="990.5" x2="389.4" y2="995.5" stroke="#000" stroke-width="2" />
<text x="389.4" y="1010" font-size="13" text-anchor="middle" font-weight="bold" >8</text>
<text x="265" y="1030.5" font-size="13.85" text-anchor="middle" font-weight="bold" >days in vitro</text>
<line x1="103.8" y1="961.6" x2="103.8" y2="984.4" stroke="#3c3c3c" stroke-width="1.2" />
<line x1="98.9" y1="961.6" x2="108.7" y2="961.6" stroke="#3c3c3c" stroke-width="1.2" />
<line x1="98.9" y1="984.4" x2="108.7" y2="984.4" stroke="#3c3c3c" stroke-width="1.2" />
<line x1="94" y1="981.4" x2="113.6" y2="981.4" stroke="#000" stroke-width="2" />
<circle cx="103.8" cy="961.6" r="3.7" fill="none" stroke="#000" stroke-width="1.9"/>
<circle cx="99.9" cy="980.1" r="3.7" fill="none" stroke="#000" stroke-width="1.9"/>
<circle cx="103.8" cy="984.4" r="3.7" fill="none" stroke="#000" stroke-width="1.9"/>
<circle cx="108.4" cy="983.4" r="3.7" fill="none" stroke="#000" stroke-width="1.9"/>
<line x1="128.7" y1="919" x2="128.7" y2="960.1" stroke="#3c3c3c" stroke-width="1.2" />
<line x1="123.8" y1="919" x2="133.6" y2="919" stroke="#3c3c3c" stroke-width="1.2" />
<line x1="123.8" y1="960.1" x2="133.6" y2="960.1" stroke="#3c3c3c" stroke-width="1.2" />
<line x1="118.9" y1="922.7" x2="138.5" y2="922.7" stroke="#000" stroke-width="2" />
<rect x="120.2" y="915.1" width="7.8" height="7.8" fill="none" stroke="#000" stroke-width="1.9"/>
<rect x="129.1" y="915.1" width="7.8" height="7.8" fill="none" stroke="#000" stroke-width="1.9"/>
<rect x="124.8" y="924" width="7.8" height="7.8" fill="none" stroke="#000" stroke-width="1.9"/>
<rect x="124.8" y="956.2" width="7.8" height="7.8" fill="none" stroke="#000" stroke-width="1.9"/>
<line x1="153.6" y1="851.9" x2="153.6" y2="864.7" stroke="#1a1a1a" stroke-width="1.2" />
<line x1="153.6" y1="879.5" x2="153.6" y2="961.6" stroke="#1a1a1a" stroke-width="1.2" />
<line x1="148.7" y1="851.9" x2="158.5" y2="851.9" stroke="#1a1a1a" stroke-width="1.2" />
<line x1="148.7" y1="961.6" x2="158.5" y2="961.6" stroke="#1a1a1a" stroke-width="1.2" />
<line x1="143.8" y1="862.3" x2="163.4" y2="862.3" stroke="#000" stroke-width="2" />
<circle cx="157.7" cy="851.9" r="4" fill="#000"/>
<circle cx="148.6" cy="862.3" r="4" fill="#000"/>
<circle cx="153.6" cy="862.3" r="4" fill="#000"/>
<circle cx="153.6" cy="961.6" r="4" fill="#000"/>
<line x1="178.5" y1="906.5" x2="178.5" y2="965.3" stroke="#1a1a1a" stroke-width="1.2" />
<line x1="173.6" y1="906.5" x2="183.4" y2="906.5" stroke="#1a1a1a" stroke-width="1.2" />
<line x1="173.6" y1="965.3" x2="183.4" y2="965.3" stroke="#1a1a1a" stroke-width="1.2" />
<line x1="168.7" y1="916.9" x2="188.3" y2="916.9" stroke="#000" stroke-width="2" />
<rect x="169.7" y="906.2" width="7.6" height="7.6" fill="#000"/>
<rect x="179.5" y="902.7" width="7.6" height="7.6" fill="#000"/>
<rect x="174.7" y="919.3" width="7.6" height="7.6" fill="#000"/>
<rect x="174.7" y="961.5" width="7.6" height="7.6" fill="#000"/>
<polygon points="129.5,789.3 131.06,793.46 135.49,793.65 132.02,796.42 133.2,800.7 129.5,798.25 125.8,800.7 126.98,796.42 123.51,793.65 127.94,793.46" fill="#000"/>
<polyline points="104.5,820 104.5,811.6 154.2,811.6 154.2,820" fill="none" stroke="#000" stroke-width="2"/>
<line x1="228.1" y1="879.5" x2="228.1" y2="940.8" stroke="#3c3c3c" stroke-width="1.2" />
<line x1="223.2" y1="862.9" x2="233" y2="862.9" stroke="#3c3c3c" stroke-width="1.2" />
<line x1="223.2" y1="940.8" x2="233" y2="940.8" stroke="#3c3c3c" stroke-width="1.2" />
<circle cx="222.9" cy="862.9" r="3.7" fill="none" stroke="#000" stroke-width="1.9"/>
<circle cx="233.3" cy="862.9" r="3.7" fill="none" stroke="#000" stroke-width="1.9"/>
<circle cx="228.1" cy="910.7" r="3.7" fill="none" stroke="#000" stroke-width="1.9"/>
<circle cx="228.1" cy="940.8" r="3.7" fill="none" stroke="#000" stroke-width="1.9"/>
<line x1="253" y1="879.5" x2="253" y2="972.4" stroke="#3c3c3c" stroke-width="1.2" />
<line x1="248.1" y1="862.9" x2="257.9" y2="862.9" stroke="#3c3c3c" stroke-width="1.2" />
<line x1="248.1" y1="972.4" x2="257.9" y2="972.4" stroke="#3c3c3c" stroke-width="1.2" />
<line x1="243.2" y1="948.1" x2="262.8" y2="948.1" stroke="#000" stroke-width="2" />
<rect x="249.1" y="859" width="7.8" height="7.8" fill="none" stroke="#000" stroke-width="1.9"/>
<rect x="249.1" y="930.7" width="7.8" height="7.8" fill="none" stroke="#000" stroke-width="1.9"/>
<rect x="253.9" y="958.1" width="7.8" height="7.8" fill="none" stroke="#000" stroke-width="1.9"/>
<rect x="244.1" y="968.5" width="7.8" height="7.8" fill="none" stroke="#000" stroke-width="1.9"/>
<line x1="277.5" y1="826.5" x2="277.5" y2="855.6" stroke="#1a1a1a" stroke-width="1.2" />
<line x1="272.6" y1="826.5" x2="282.4" y2="826.5" stroke="#1a1a1a" stroke-width="1.2" />
<line x1="272.6" y1="855.6" x2="282.4" y2="855.6" stroke="#1a1a1a" stroke-width="1.2" />
<line x1="267.7" y1="835.5" x2="287.3" y2="835.5" stroke="#000" stroke-width="2" />
<circle cx="277.5" cy="826.5" r="4" fill="#000"/>
<circle cx="272.7" cy="831.7" r="4" fill="#000"/>
<circle cx="282.7" cy="840" r="4" fill="#000"/>
<circle cx="277.5" cy="855.6" r="4" fill="#000"/>
<line x1="302.4" y1="879.5" x2="302.4" y2="920.4" stroke="#1a1a1a" stroke-width="1.2" />
<line x1="297.5" y1="862.9" x2="307.3" y2="862.9" stroke="#1a1a1a" stroke-width="1.2" />
<line x1="297.5" y1="920.4" x2="307.3" y2="920.4" stroke="#1a1a1a" stroke-width="1.2" />
<line x1="292.6" y1="899.7" x2="312.2" y2="899.7" stroke="#000" stroke-width="2" />
<rect x="298.6" y="859.1" width="7.6" height="7.6" fill="#000"/>
<rect x="298.6" y="879.9" width="7.6" height="7.6" fill="#000"/>
<rect x="293.9" y="916.6" width="7.6" height="7.6" fill="#000"/>
<rect x="303.8" y="912.1" width="7.6" height="7.6" fill="#000"/>
<line x1="270.5" y1="788.3" x2="268.2" y2="799.5" stroke="#000" stroke-width="1.7" />
<line x1="274" y1="788.3" x2="271.7" y2="799.5" stroke="#000" stroke-width="1.7" />
<line x1="267.1" y1="791.7" x2="275.3" y2="791.7" stroke="#000" stroke-width="1.8" />
<line x1="266.7" y1="795.8" x2="274.9" y2="795.8" stroke="#000" stroke-width="1.8" />
<line x1="278.9" y1="788.3" x2="276.6" y2="799.5" stroke="#000" stroke-width="1.7" />
<line x1="282.4" y1="788.3" x2="280.1" y2="799.5" stroke="#000" stroke-width="1.7" />
<line x1="275.5" y1="791.7" x2="283.7" y2="791.7" stroke="#000" stroke-width="1.8" />
<line x1="275.1" y1="795.8" x2="283.3" y2="795.8" stroke="#000" stroke-width="1.8" />
<line x1="287.3" y1="788.3" x2="285" y2="799.5" stroke="#000" stroke-width="1.7" />
<line x1="290.8" y1="788.3" x2="288.5" y2="799.5" stroke="#000" stroke-width="1.7" />
<line x1="283.9" y1="791.7" x2="292.1" y2="791.7" stroke="#000" stroke-width="1.8" />
<line x1="283.5" y1="795.8" x2="291.7" y2="795.8" stroke="#000" stroke-width="1.8" />
<line x1="352.7" y1="936.2" x2="352.7" y2="973.6" stroke="#3c3c3c" stroke-width="1.2" />
<line x1="347.8" y1="936.2" x2="357.6" y2="936.2" stroke="#3c3c3c" stroke-width="1.2" />
<line x1="347.8" y1="973.6" x2="357.6" y2="973.6" stroke="#3c3c3c" stroke-width="1.2" />
<line x1="342.9" y1="947.4" x2="362.5" y2="947.4" stroke="#000" stroke-width="2" />
<circle cx="347.5" cy="940.4" r="3.7" fill="none" stroke="#000" stroke-width="1.9"/>
<circle cx="357.4" cy="936.2" r="3.7" fill="none" stroke="#000" stroke-width="1.9"/>
<circle cx="352.7" cy="954.9" r="3.7" fill="none" stroke="#000" stroke-width="1.9"/>
<circle cx="352.7" cy="973.6" r="3.7" fill="none" stroke="#000" stroke-width="1.9"/>
<line x1="377" y1="953.7" x2="377" y2="983.4" stroke="#3c3c3c" stroke-width="1.2" />
<line x1="372.1" y1="953.7" x2="381.9" y2="953.7" stroke="#3c3c3c" stroke-width="1.2" />
<line x1="372.1" y1="983.4" x2="381.9" y2="983.4" stroke="#3c3c3c" stroke-width="1.2" />
<line x1="367.2" y1="964.1" x2="386.8" y2="964.1" stroke="#000" stroke-width="2" />
<rect x="368.5" y="949.8" width="7.8" height="7.8" fill="none" stroke="#000" stroke-width="1.9"/>
<rect x="377.8" y="949.8" width="7.8" height="7.8" fill="none" stroke="#000" stroke-width="1.9"/>
<rect x="377.8" y="970.5" width="7.8" height="7.8" fill="none" stroke="#000" stroke-width="1.9"/>
<rect x="368.5" y="979.5" width="7.8" height="7.8" fill="none" stroke="#000" stroke-width="1.9"/>
<line x1="401.9" y1="879.5" x2="401.9" y2="925.8" stroke="#1a1a1a" stroke-width="1.2" />
<line x1="397" y1="862.3" x2="406.8" y2="862.3" stroke="#1a1a1a" stroke-width="1.2" />
<line x1="397" y1="925.8" x2="406.8" y2="925.8" stroke="#1a1a1a" stroke-width="1.2" />
<line x1="392.1" y1="893" x2="411.7" y2="893" stroke="#000" stroke-width="2" />
<circle cx="401.9" cy="862.3" r="4" fill="#000"/>
<circle cx="401.9" cy="879.5" r="4" fill="#000"/>
<circle cx="401.9" cy="907.1" r="4" fill="#000"/>
<circle cx="401.9" cy="925.8" r="4" fill="#000"/>
<line x1="426.4" y1="941.2" x2="426.4" y2="975" stroke="#1a1a1a" stroke-width="1.2" />
<line x1="421.5" y1="941.2" x2="431.3" y2="941.2" stroke="#1a1a1a" stroke-width="1.2" />
<line x1="421.5" y1="975" x2="431.3" y2="975" stroke="#1a1a1a" stroke-width="1.2" />
<line x1="416.6" y1="973" x2="436.2" y2="973" stroke="#000" stroke-width="2" />
<rect x="422.6" y="937.4" width="7.6" height="7.6" fill="#000"/>
<rect x="418.4" y="969.2" width="7.6" height="7.6" fill="#000"/>
<rect x="422.6" y="971.2" width="7.6" height="7.6" fill="#000"/>
<rect x="426.8" y="969.2" width="7.6" height="7.6" fill="#000"/>
</svg>
</body></html>
